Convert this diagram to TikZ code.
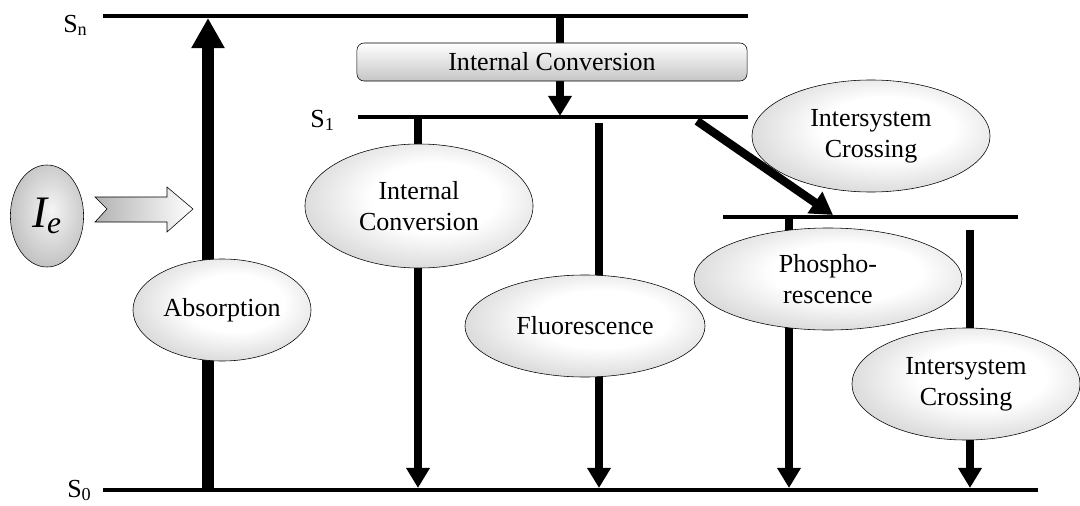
\documentclass[tikz,border=0pt]{standalone}
\usepackage{fontspec}
\setmainfont{Liberation Serif}
\usepackage{tikz}
\usetikzlibrary{shapes.geometric, arrows.meta}

\pgfdeclareradialshading{halo}{\pgfpoint{4bp}{4bp}}{color(0bp)=(white); color(14bp)=(white); color(50bp)=(gray!70); color(100bp)=(gray!70)}
\pgfdeclareradialshading{halodark}{\pgfpoint{3bp}{3bp}}{color(0bp)=(gray!8); color(50bp)=(gray!80); color(100bp)=(gray!80)}

\begin{document}
\begin{tikzpicture}[x=0.025cm, y=-0.025cm,
  lvl/.style={line width=3.5pt},
  up/.style={line width=8pt, -{Triangle[width=0.78cm,length=0.75cm]}},
  down/.style={line width=5.6pt, -{Triangle[width=0.56cm,length=0.5cm]}},
  txt/.style={font=\fontsize{18.5}{22}\selectfont},
  proc/.style={ellipse, draw, thin, shading=halo, align=center, inner sep=0pt, txt}]
\useasboundingbox (0,0) rectangle (1080,506);

% energy levels
\coordinate (Sn-l) at (103,16);  \coordinate (Sn-r) at (748,16);
\coordinate (S1-l) at (358,117); \coordinate (S1-r) at (748,117);
\coordinate (T1-l) at (723,217); \coordinate (T1-r) at (1018,217);
\coordinate (S0-l) at (103,490); \coordinate (S0-r) at (1038,490);
\draw[lvl] (Sn-l) -- (Sn-r);
\draw[lvl] (S1-l) -- (S1-r);
\draw[lvl] (T1-l) -- (T1-r);
\draw[lvl] (S0-l) -- (S0-r);
\node[txt, anchor=base west, inner sep=0pt] (Sn) at (63,32) {S\textsubscript{n}};
\node[txt, anchor=base west, inner sep=0pt] (S1) at (310,127) {S\textsubscript{1}};
\node[txt, anchor=base west, inner sep=0pt] (S0) at (67,497) {S\textsubscript{0}};

% transitions
\draw[up] (208,490) -- (208,18);
\draw[down] (560,16) -- (560,116);
\draw[down] (418,117) -- (418,488);
\draw[down] (599,123) -- (599,488);
\draw[line width=6pt, -{Triangle[width=0.62cm,length=0.55cm]}] (697,121) -- (833,215);
\draw[down] (789,217) -- (789,488);
\draw[down] (970,230) -- (970,488);

% process labels
\node[draw, thin, rounded corners=0.18cm, top color=white, bottom color=gray!45, minimum width=9.75cm, minimum height=0.95cm, txt] (ic1) at (552,62) {Internal Conversion};
\node[proc, minimum width=4.45cm, minimum height=2.55cm] (abs) at (222,310) {Absorption};
\node[proc, minimum width=5.7cm, minimum height=3.1cm] (ic2) at (419,206) {Internal\\Conversion};
\node[proc, minimum width=6cm, minimum height=2.55cm] (fl) at (585,326) {Fluorescence};
\node[proc, minimum width=5.95cm, minimum height=2.8cm] (isc1) at (871,136) {Intersystem\\Crossing};
\node[proc, minimum width=6.7cm, minimum height=2.55cm] (ph) at (828,279) {Phospho-\\rescence};
\node[proc, minimum width=5.7cm, minimum height=2.8cm] (isc2) at (966,384) {Intersystem\\Crossing};

% light source
\node[proc, shading=halodark, minimum width=1.83cm, minimum height=2.55cm, font=\fontsize{32}{32}\selectfont\itshape] (Ie) at (47,216) {I\textsubscript{e}};
\shade[draw, thin, left color=gray!60, right color=white] (95,197) -- (167,197) -- (167,187) -- (193,209) -- (167,232) -- (167,222) -- (95,222) -- (107,209) -- cycle;
\end{tikzpicture}
\end{document}
